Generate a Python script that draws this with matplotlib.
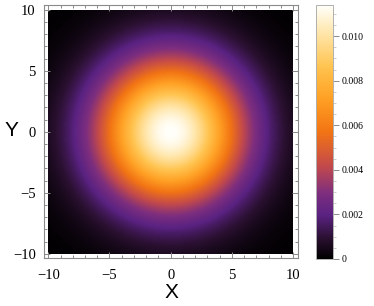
import numpy as np
import matplotlib
matplotlib.use("Agg")
import matplotlib.pyplot as plt
from matplotlib.colors import LinearSegmentedColormap
from matplotlib.ticker import MultipleLocator

# density: round peak at the origin
x_range = [-10, 10]
y_range = [-10, 10]
peak_value = 0.0114
spread = 4.2
center = [0.0, 0.0]

cbar_ticks = [0, 0.002, 0.004, 0.006, 0.008, 0.010]
cbar_labels = ["0", "0.002", "0.004", "0.006", "0.008", "0.010"]
cbar_max = 0.0114

# colours sampled from the legend bar (sunset-like)
cmap_stops = [0.0, 0.08, 0.17, 0.26, 0.37, 0.50, 0.63, 0.76, 0.90, 1.0]
cmap_colors = ["#000000", "#2a1030", "#5a2282", "#7e2e7e", "#c44a4a",
               "#f27414", "#ffa024", "#ffc450", "#ffe8b0", "#fffffa"]
cmap = LinearSegmentedColormap.from_list("sunset", list(zip(cmap_stops, cmap_colors)))

xs = np.linspace(x_range[0], x_range[1], 300)
ys = np.linspace(y_range[0], y_range[1], 300)
X, Y = np.meshgrid(xs, ys)
Z = peak_value * np.exp(-((X - center[0])**2 + (Y - center[1])**2) / (2 * spread**2))

fig = plt.figure(figsize=(3.74, 3.06), dpi=100)
ax = fig.add_axes([0.1176, 0.1569, 0.679, 0.827])
ax.imshow(Z, origin="lower", extent=[x_range[0], x_range[1], y_range[0], y_range[1]],
          cmap=cmap, vmin=0, vmax=cbar_max, interpolation="bilinear", aspect="auto")
ax.set_xlim(-10.35, 10.4)
ax.set_ylim(-10.35, 10.4)

frame = "#8a8a8a"
for s in ax.spines.values():
    s.set_color(frame)
    s.set_linewidth(0.8)
ax.xaxis.set_major_locator(MultipleLocator(5))
ax.yaxis.set_major_locator(MultipleLocator(5))
ax.xaxis.set_minor_locator(MultipleLocator(1))
ax.yaxis.set_minor_locator(MultipleLocator(1))
ax.tick_params(which="both", direction="in", top=True, right=True, color=frame, width=0.7)
ax.tick_params(which="major", length=4)
ax.tick_params(which="minor", length=2.2)
ax.tick_params(axis="x", pad=8)
ax.tick_params(axis="y", pad=6)
for lab in ax.get_xticklabels() + ax.get_yticklabels():
    lab.set_family("Liberation Serif")
    lab.set_fontsize(10.5)

fig.text(171 / 374, 1 - 293 / 306, "X", family="Liberation Sans", fontsize=15,
         ha="center", va="center")
fig.text(11 / 374, 1 - 131 / 306, "Y", family="Liberation Sans", fontsize=15,
         ha="center", va="center")

cax = fig.add_axes([316 / 374, 47 / 306, 17 / 374, 254 / 306])
cb = fig.colorbar(ax.images[0], cax=cax, ticks=cbar_ticks)
cb.set_ticklabels(cbar_labels)
cb.outline.set_edgecolor("#b0b0b0")
cb.outline.set_linewidth(0.7)
cax.yaxis.set_minor_locator(MultipleLocator(0.0005))
cax.tick_params(which="major", length=4, color="#8a8a8a", width=0.7, pad=2)
cax.tick_params(which="minor", length=2.5, color="#cccccc", width=0.7)
for lab in cax.get_yticklabels():
    lab.set_family("Liberation Serif")
    lab.set_fontsize(7)

fig.savefig("out.png", dpi=100)
